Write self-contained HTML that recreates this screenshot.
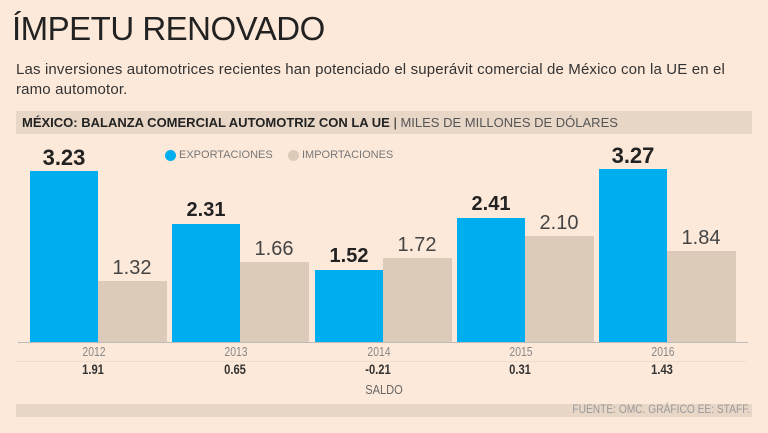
<!DOCTYPE html><html><head><meta charset="utf-8"><style>
body{margin:0;width:768px;height:433px;background:#fde9da;font-family:"Liberation Sans",sans-serif;position:relative;overflow:hidden}
div{position:absolute}
.b{background:#00aeef}.i{background:#dccbb9}
.v{font-size:20px;text-align:center;width:80px;color:#222}
.vb{font-weight:bold}
.y{font-size:13px;color:#888;top:344px;width:60px;text-align:center;transform:scaleX(.8)}
.s{font-size:14px;font-weight:bold;color:#333;top:361px;width:60px;text-align:center;transform:scaleX(.8)}
</style></head><body>
<div style="left:12px;top:10px;font-size:33px;color:#222;letter-spacing:-.5px">ÍMPETU RENOVADO</div>
<div style="left:16px;top:60px;font-size:15px;color:#333;line-height:20px;width:730px;letter-spacing:.15px">Las inversiones automotrices recientes han potenciado el superávit comercial de México con la UE en el ramo automotor.</div>
<div style="left:16px;top:111px;width:736px;height:23px;background:#e8d7c7"></div>
<div style="left:22px;top:115px;font-size:13px;color:#222;white-space:nowrap"><b>MÉXICO: BALANZA COMERCIAL AUTOMOTRIZ CON LA UE</b> | <span style="color:#555">MILES DE MILLONES DE DÓLARES</span></div>
<div style="left:165px;top:150px;width:11px;height:11px;border-radius:50%;background:#00aeef"></div>
<div style="left:179px;top:149px;font-size:11px;color:#777">EXPORTACIONES</div>
<div style="left:288px;top:150px;width:11px;height:11px;border-radius:50%;background:#dccbb9"></div>
<div style="left:302px;top:149px;font-size:11px;color:#777">IMPORTACIONES</div>

<div class="b" style="left:30px;top:171px;width:68px;height:171px"></div>
<div class="i" style="left:98px;top:281px;width:69px;height:61px"></div>
<div class="b" style="left:172px;top:224px;width:68px;height:118px"></div>
<div class="i" style="left:240px;top:262px;width:69px;height:80px"></div>
<div class="b" style="left:315px;top:270px;width:68px;height:72px"></div>
<div class="i" style="left:383px;top:258px;width:69px;height:84px"></div>
<div class="b" style="left:457px;top:218px;width:68px;height:124px"></div>
<div class="i" style="left:525px;top:236px;width:69px;height:106px"></div>
<div class="b" style="left:599px;top:169px;width:68px;height:173px"></div>
<div class="i" style="left:667px;top:251px;width:69px;height:91px"></div>

<div class="v vb" style="left:24px;top:145px;font-size:22px">3.23</div>
<div class="v" style="left:92px;top:257px;color:#444">1.32</div>
<div class="v vb" style="left:166px;top:199px">2.31</div>
<div class="v" style="left:234px;top:238px;color:#444">1.66</div>
<div class="v vb" style="left:309px;top:245px">1.52</div>
<div class="v" style="left:377px;top:234px;color:#444">1.72</div>
<div class="v vb" style="left:451px;top:193px">2.41</div>
<div class="v" style="left:519px;top:212px;color:#444">2.10</div>
<div class="v vb" style="left:593px;top:143px;font-size:22px">3.27</div>
<div class="v" style="left:661px;top:227px;color:#444">1.84</div>

<div style="left:18px;top:342px;width:730px;height:1px;background:#bbb"></div>
<div style="left:16px;top:361px;width:730px;height:1px;background:#eedccd"></div>
<div class="y" style="left:64px">2012</div><div class="y" style="left:206px">2013</div><div class="y" style="left:349px">2014</div><div class="y" style="left:491px">2015</div><div class="y" style="left:633px">2016</div>
<div class="s" style="left:63px">1.91</div><div class="s" style="left:205px">0.65</div><div class="s" style="left:348px">-0.21</div><div class="s" style="left:490px">0.31</div><div class="s" style="left:632px">1.43</div>
<div style="left:354px;top:382px;font-size:13px;color:#666;width:60px;text-align:center;transform:scaleX(.85)">SALDO</div>
<div style="left:16px;top:404px;width:736px;height:13px;background:#e8d7c7"></div>
<div style="right:18px;top:402px;font-size:12px;color:#999;transform:scaleX(.85);transform-origin:right">FUENTE: OMC.  GRÁFICO EE: STAFF.</div>
</body></html>
